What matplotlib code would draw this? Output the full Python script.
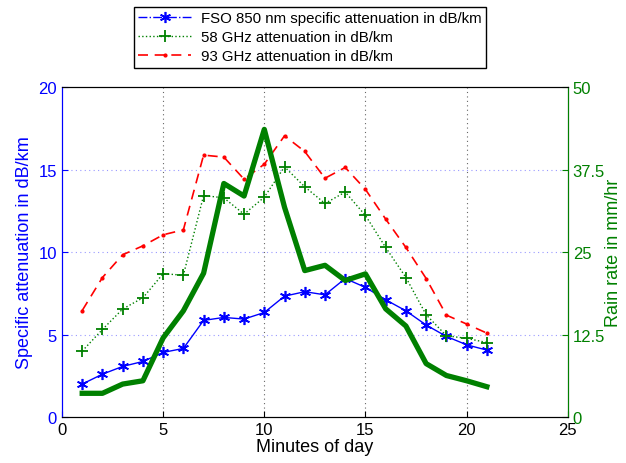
import numpy as np
import matplotlib.pyplot as plt
from matplotlib.lines import Line2D

minutes = np.arange(1, 22)
# attenuation in dB/km (left axis)
fso_850 = [2.0, 2.6, 3.07, 3.37, 3.92, 4.16, 5.86, 6.04, 5.94, 6.34, 7.33,
           7.6, 7.41, 8.4, 7.86, 7.11, 6.44, 5.58, 4.89, 4.38, 4.06]
ghz_58 = [4.0, 5.31, 6.55, 7.23, 8.69, 8.6, 13.43, 13.29, 12.3, 13.33, 15.17,
          13.96, 12.95, 13.64, 12.22, 10.28, 8.46, 6.2, 4.93, 4.77, 4.52]
ghz_93 = [6.46, 8.46, 9.84, 10.38, 11.05, 11.35, 15.88, 15.76, 14.42, 15.33, 17.05,
          16.1, 14.48, 15.13, 13.8, 12.0, 10.28, 8.4, 6.18, 5.64, 5.09]
# rain rate in mm/hr (right axis)
rain_rate = [3.6, 3.6, 5.0, 5.5, 12.0, 16.1, 21.8, 35.4, 33.5, 43.6, 31.8,
             22.2, 23.0, 20.7, 21.7, 16.4, 13.8, 8.1, 6.3, 5.5, 4.6]

blue = (0, 0, 1)
green = (0, 0.5, 0)
red = (1, 0, 0)
asterisk = (6, 2, 0)

plt.rcParams['font.family'] = ['Liberation Sans', 'DejaVu Sans']
fig = plt.figure(figsize=(6.26, 4.64), dpi=100)
ax = fig.add_axes([0.099, 0.099, 0.808, 0.711])
ax2 = ax.twinx()

l1, = ax.plot(minutes, fso_850, '-', color=blue, marker=asterisk, markersize=8, mew=1.2, lw=1)
l2, = ax.plot(minutes, ghz_58, ':', color=green, marker='+', markersize=9, mew=1.3, lw=1)
l3, = ax.plot(minutes, ghz_93, color=red, ls=(0, (6, 4)), marker='.', markersize=4, lw=1.2)
ax2.plot(minutes, rain_rate, '-', color=green, lw=3.8)

ax.set_xlim(0, 25)
ax.set_ylim(0, 20)
ax2.set_ylim(0, 50)
ax.set_xticks([0, 5, 10, 15, 20, 25])
ax.set_yticks([0, 5, 10, 15, 20])
ax2.set_yticks([0, 12.5, 25, 37.5, 50])
ax2.set_yticklabels(['0', '12.5', '25', '37.5', '50'])

for x in [5, 10, 15, 20]:
    ax.axvline(x, color='0.4', ls=(0, (1, 3)), lw=0.8, zorder=0)
for y in [5, 10, 15]:
    ax.axhline(y, color=(0.6, 0.6, 1.0), ls=(0, (1, 3)), lw=0.8, zorder=0)

ax.tick_params(direction='in', labelsize=12, length=4)
ax.tick_params(axis='y', colors=blue)
ax.tick_params(axis='x', colors='black')
ax2.tick_params(direction='in', labelsize=12, length=4, colors=green)
ax.spines['left'].set_color(blue)
ax2.spines['left'].set_color(blue)
ax2.spines['right'].set_color(green)

ax.set_xlabel('Minutes of day', fontsize=13, labelpad=1)
ax.set_ylabel('Specific attenuation in dB/km', fontsize=13, color=blue, labelpad=4)
ax2.set_ylabel('Rain rate in mm/hr', fontsize=13, color=green, labelpad=0)

h1 = Line2D([], [], ls='-.', color=blue, marker=asterisk, markersize=8, mew=1.2, lw=1)
fig.legend([h1, l2, l3],
           ['FSO 850 nm specific attenuation in dB/km',
            '58 GHz attenuation in dB/km',
            '93 GHz attenuation in dB/km'],
           loc='upper left', bbox_to_anchor=(0.214, 0.983), fontsize=10.8,
           frameon=True, fancybox=False, edgecolor='black', framealpha=1,
           borderpad=0.3, labelspacing=0.33, handlelength=3.5, handletextpad=0.65,
           borderaxespad=0)

fig.savefig('out.png', dpi=100)
